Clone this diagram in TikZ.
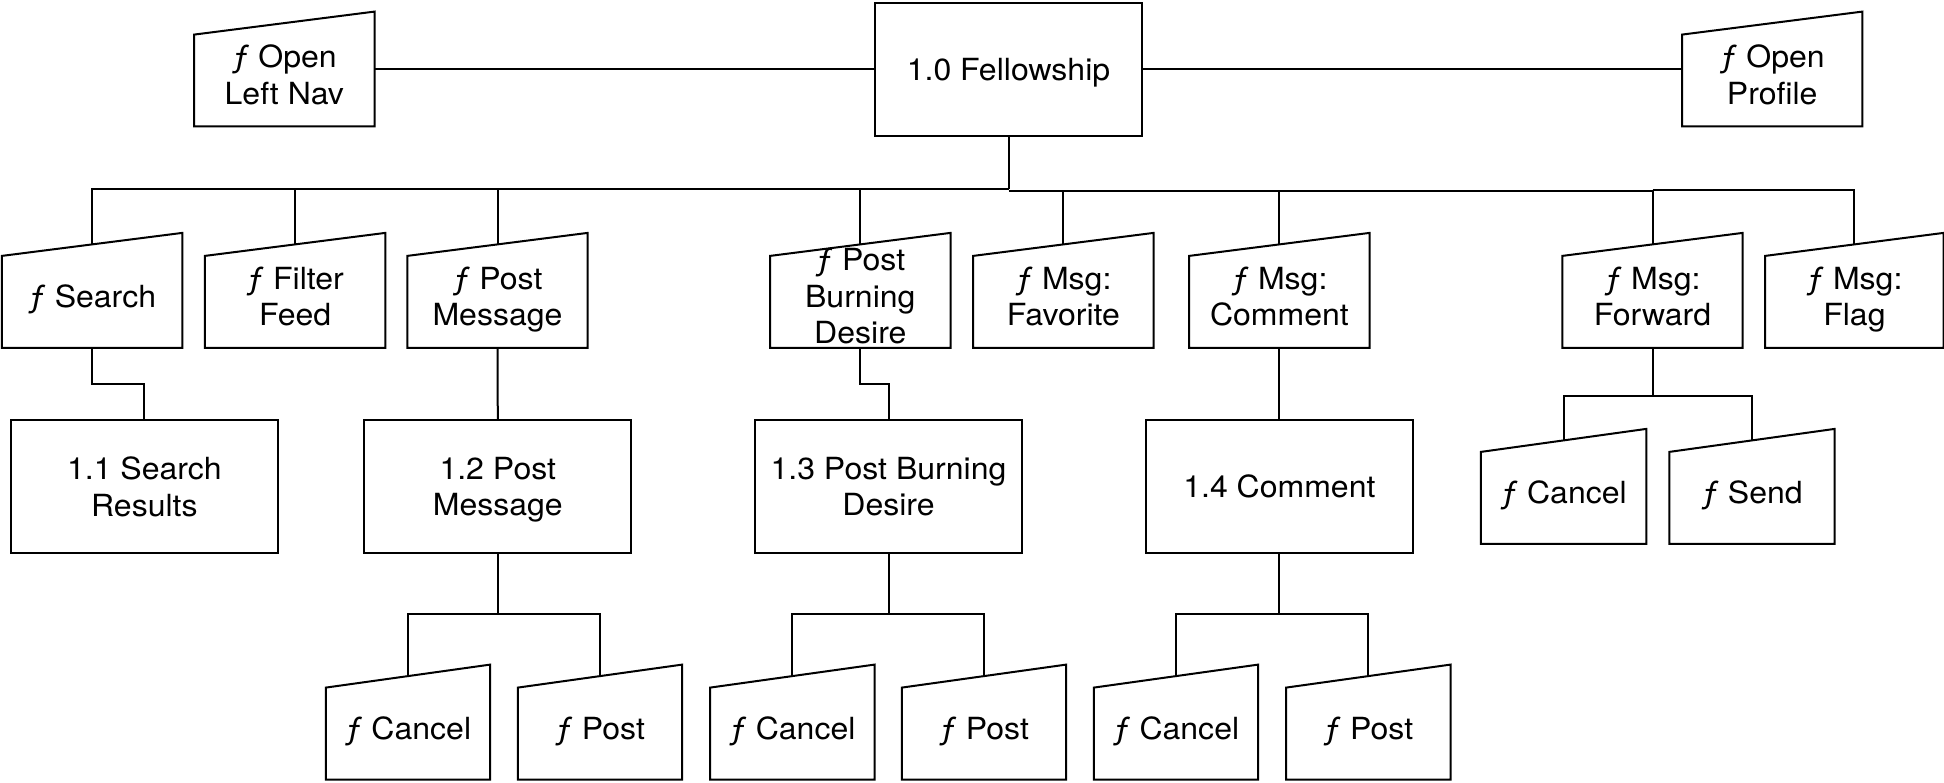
\documentclass[tikz,border=0pt]{standalone}
\usepackage{fontspec}
\setmainfont{TeX Gyre Heros}[FakeStretch=1.05]
\begin{document}
\begin{tikzpicture}[x=1pt,y=-1pt,
  every node/.style={font=\fontsize{30.5}{36.5}\selectfont, align=center, inner sep=0pt, text depth=0pt},
  pbox/.style={draw, line width=2pt, rectangle, minimum width=267pt, minimum height=133pt},
  fbig/.style={rectangle, minimum width=180pt, minimum height=103pt},
  fsmall/.style={rectangle, minimum width=164pt, minimum height=103pt},
  trap/.style={line width=2pt, line join=miter},
  conn/.style={line width=2pt}]
\useasboundingbox (0,0) rectangle (1944,783);

% main process
\node[pbox] (fell) at (1008.5,69.2) {1.0 Fellowship};
\node[fbig] (oln) at (284.3,74.8) {ƒ Open\\Left Nav};
\node[fbig] (opr) at (1772.2,74.8) {ƒ Open\\Profile};

% level 1 functions
\node[fbig] (search) at (92.1,296.1) {ƒ Search};
\node[fbig] (filter) at (295.1,296.1) {ƒ Filter\\Feed};
\node[fbig] (postmsg) at (497.5,296.1) {ƒ Post\\Message};
\node[fbig] (pbd) at (860.3,296.1) {ƒ Post\\Burning\\Desire};
\node[fbig] (fav) at (1063.4,296.1) {ƒ Msg:\\Favorite};
\node[fbig] (comment) at (1279.4,296.1) {ƒ Msg:\\Comment};
\node[fbig] (forward) at (1652.5,296.1) {ƒ Msg:\\Forward};
\node[fbig, minimum width=178pt] (flag) at (1854.4,296.1) {ƒ Msg:\\Flag};

% level 2 processes
\node[pbox] (s11) at (144.4,486.5) {1.1 Search\\Results};
\node[pbox] (p12) at (497.8,486.5) {1.2 Post\\Message};
\node[pbox] (p13) at (888.5,486.5) {1.3 Post Burning\\Desire};
\node[pbox] (c14) at (1279.4,486.5) {1.4 Comment};

% level 3 functions
\node[fsmall] (pmc) at (408,727.8) {ƒ Cancel};
\node[fsmall] (pmp) at (600,727.8) {ƒ Post};
\node[fsmall] (bdc) at (792.3,727.8) {ƒ Cancel};
\node[fsmall] (bdp) at (984,727.8) {ƒ Post};
\node[fsmall] (cmc) at (1176,727.8) {ƒ Cancel};
\node[fsmall] (cmp) at (1368.3,727.8) {ƒ Post};
\node[fsmall, minimum width=165pt] (fwc) at (1563.6,492.1) {ƒ Cancel};
\node[fsmall, minimum width=165pt] (fws) at (1752,492.1) {ƒ Send};

% trapezoid outlines
\foreach \n in {oln,opr,search,filter,postmsg,pbd,fav,comment,forward,flag,pmc,pmp,bdc,bdp,cmc,cmp,fwc,fws}
  \draw[trap] (\n.south west) -- ([yshift=-11.5pt]\n.north west) -- ([yshift=11.5pt]\n.north east) -- (\n.south east) -- cycle;

% connectors
\draw[conn] (oln.east |- fell.west) -- (fell.west);
\draw[conn] (fell.east) -- (opr.west |- fell.east);

\coordinate (busL) at (1008.5,189.5);
\coordinate (busR) at (1008.5,191);
\coordinate (busF) at (1652.5,190);
\draw[conn] (fell.south) -- (busL);
\draw[conn] (search.north) |- (busL);
\draw[conn] (filter.north) -- (filter.north |- busL);
\draw[conn] (postmsg.north) -- (postmsg.north |- busL);
\draw[conn] (pbd.north) -- (pbd.north |- busL);
\draw[conn] (busR) -| (forward.north);
\draw[conn] (fav.north) -- (fav.north |- busR);
\draw[conn] (comment.north) -- (comment.north |- busR);
\draw[conn] (busF) -| (flag.north);

\draw[conn] (search.south) -- ++(0,36) -| (s11.north);
\draw[conn] (postmsg.south) -- (p12.north);
\draw[conn] (pbd.south) -- ++(0,36) -| (p13.north);
\draw[conn] (comment.south) -- (c14.north);

\draw[conn] (p12.south) -- ++(0,60) coordinate (j12);
\draw[conn] (pmc.north) |- (j12) -| (pmp.north);
\draw[conn] (p13.south) -- ++(0,60) coordinate (j13);
\draw[conn] (bdc.north) |- (j13) -| (bdp.north);
\draw[conn] (c14.south) -- ++(0,60) coordinate (j14);
\draw[conn] (cmc.north) |- (j14) -| (cmp.north);
\draw[conn] (forward.south) -- ++(0,48) coordinate (jfw);
\draw[conn] (fwc.north) |- (jfw) -| (fws.north);
\end{tikzpicture}
\end{document}
